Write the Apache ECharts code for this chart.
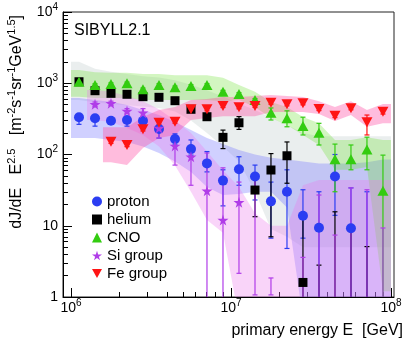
<!DOCTYPE html>
<html><head><meta charset="utf-8">
<script src="https://cdn.jsdelivr.net/npm/echarts@6/dist/echarts.min.js"></script>
<style>html,body{margin:0;padding:0;background:#fff}#c{width:407px;height:343px}</style>
</head><body><div id="c"></div>
<script>
// ---- data ----
const energies = [1.122e6, 1.413e6, 1.778e6, 2.239e6, 2.818e6, 3.548e6, 4.467e6, 5.623e6, 7.079e6, 8.913e6,
                  1.122e7, 1.413e7, 1.778e7, 2.239e7, 2.818e7, 3.548e7, 4.467e7, 5.623e7, 7.079e7, 8.913e7];

const protonVal = [333, 322, 298, 305, 298, 228, 165, 119, 75, 43, 62, 49, 22, 30, 13.8, 9.4, 49, 9.2, null, null];
const protonLo  = [265, 250, 280, 250, 280, 170, 140, 98, 57, 19, 37, 23, 6.7, 4.8, 6.7, 0.5, 14, 0.5, 0.5, null];
const protonHi  = [345, 335, 312, 318, 312, 250, 195, 160, 110, 61, 93, 71, 41, 61, 32, 30, 100, 34, 30, null];

const heliumVal = [1050, 786, 722, 700, 648, 635, 569, 431, 339, 174, 279, 31.7, 60.6, 96, 1.6, null, null, null, null, null];
const heliumLo  = [1000, 750, 690, 670, 620, 605, 540, 405, 318, 121, 225, 13.4, 7, 39.5, 0.5, 0.5, 0.5, 0.5, 0.5, null];
const heliumHi  = [1100, 820, 755, 730, 678, 665, 598, 458, 360, 220, 340, 49, 103, 150, 12.8, 2.8, 15.7, 8.3, 5.1, null];

const cnoVal = [1052, 945, 976, 998, 823, 945, 877, 915, 945, 761, 707, 582, 386, 322, 251, 202, 85.7, 85.7, 118, 31];
const cnoLo  = [1010, 905, 935, 955, 788, 905, 840, 876, 905, 728, 676, 555, 305, 245, 188, 136, 30, 61, 61, 0.5];
const cnoHi  = [1095, 985, 1015, 1040, 858, 985, 915, 955, 985, 795, 738, 610, 450, 410, 334, 274, 140, 136, 175, 98];

const siVal = [null, 507, 523, 408, 386, 235, 132, 93, 31, 12, 21.3, null, null, null, null, null, null, null, null, null];
const siLo  = [null, 470, 490, 380, 300, 170, 71, 37, 0.5, 0.5, 2.15, 1.07, 1.07, null, 0.5, 0.5, 0.5, 0.5, 0.5, 0.5];
const siHi  = [null, 545, 560, 440, 440, 300, 160, 116, 105, 65, 41, 52, 1.85, null, 3.6, 27, 7.4, 34, 32, 9.3];

const feVal = [null, null, 151, 136, 226, 279, 289, 431, 431, 480, 460, 480, 533, 506, 523, 435, 351, 445, 283, 399];
const feLo  = [null, null, 143, 129, 214, 265, 275, 410, 410, 457, 438, 457, 508, 482, 498, 414, 330, 424, 188, 370];
const feHi  = [null, null, 159, 143, 238, 293, 303, 452, 452, 503, 482, 503, 558, 530, 548, 456, 372, 466, 358, 430];

// systematic bands
const protonBandLo = [170, 170, 160, 150, 130, 105, 80, 57, 35, 27, 28, 30, 30, 18, 0.5, 0.5, 0.5, 0.5, 0.5, 0.5];
const protonBandHi = [620, 580, 550, 495, 420, 358, 285, 221, 170, 140, 116, 100, 90, 85, 80, 75, 75, 75, 78, 85];
const heliumBandLo = [580, 540, 510, 490, 470, 450, 400, 300, 200, 130, 80, 30, 9, 7, 5, 5, 5, 5, 5, 5];
const heliumBandHi = [2000, 1600, 1450, 1350, 1250, 1200, 1100, 950, 800, 650, 520, 420, 330, 260, 200, 180, 180, 180, 180, 180];
const cnoBandLo = [645, 620, 620, 620, 582, 582, 582, 582, 582, 560, 582, 465, 325, 259, 188, 136, 61, 61, 67, 1.2];
const cnoBandHi = [1535, 1430, 1400, 1400, 1350, 1350, 1300, 1300, 1300, 1190, 945, 760, 545, 465, 335, 275, 160, 160, 175, 160];
const siBandLo = [null, 305, 285, 235, 188, 130, 70, 30, 12, 8, 0.5, 0.5, 0.5, 0.5, 0.5, 0.5, 0.5, 0.5, 0.5, 0.5];
const siBandHi = [null, 804, 760, 660, 560, 430, 300, 200, 110, 60, 35, 15, 10, 10, 37, 44, 44, 44, 44, 44];
const feBandLo = [null, null, 78, 71, 123, 170, 188, 305, 325, 345, 345, 345, 395, 395, 395, 370, 295, 358, 245, 275];
const feBandHi = [null, null, 242, 242, 335, 421, 465, 582, 600, 640, 640, 660, 684, 660, 640, 560, 465, 560, 421, 510];

const seriesNames = ['proton', 'helium', 'CNO', 'Si group', 'Fe group'];
const xMajor = [1e6, 1e7, 1e8];
const yMajor = [1, 10, 100, 1000, 10000];
const minorMult = [2, 3, 4, 5, 6, 7, 8, 9];
const modelLabel = 'SIBYLL2.1';

// ---- construction ----
const FONT = '"Liberation Sans", Arial, Helvetica, sans-serif';
const xMinor = []; [1e6, 1e7].forEach(d => minorMult.forEach(m => xMinor.push(m * d)));
const yMinor = []; [1, 10, 100, 1000].forEach(d => minorMult.forEach(m => yMinor.push(m * d)));
const xMin = Math.pow(10, 5.95), xMax = Math.pow(10, 8.019);
const binHalf = Math.pow(10, 0.05);

function pts(vals) { return energies.map((e, i) => vals[i] == null ? null : [e, vals[i]]).filter(Boolean); }
function rows(lo, hi) { return energies.map((e, i) => (lo[i] == null || hi[i] == null) ? null : [e, lo[i], hi[i]]).filter(Boolean); }

function powLabel(v) {
  const e = Math.round(Math.log10(v));
  if (e === 0) return '{b|1}';
  if (e === 1) return '{b|10}';
  return '{b|10}{s|' + e + '}';
}
const labRich = {
  b: { fontSize: 14, fontFamily: FONT, color: '#000', lineHeight: 20 },
  s: { fontSize: 10, fontFamily: FONT, color: '#000', lineHeight: 10, verticalAlign: 'top' }
};

function errSeries(name, lo, hi, color, z) {
  return {
    type: 'custom', name: name + ' err', z: z, clip: true, silent: true,
    data: rows(lo, hi), encode: { x: 0, y: [1, 2] },
    renderItem: function (params, api) {
      const x = api.value(0);
      const a = api.coord([x, api.value(1)]);
      const b = api.coord([x, api.value(2)]);
      const st = { stroke: color, lineWidth: 1.2 };
      const c = 2.5;
      return { type: 'group', children: [
        { type: 'line', shape: { x1: a[0], y1: a[1], x2: b[0], y2: b[1] }, style: st },
        { type: 'line', shape: { x1: a[0] - c, y1: a[1], x2: a[0] + c, y2: a[1] }, style: st },
        { type: 'line', shape: { x1: b[0] - c, y1: b[1], x2: b[0] + c, y2: b[1] }, style: st }
      ] };
    }
  };
}

function bandSeries(name, lo, hi, fill) {
  const data = rows(lo, hi);
  return {
    type: 'custom', name: name + ' band', z: 1, clip: true, silent: true,
    data: data, encode: { x: 0, y: [1, 2] },
    renderItem: function (params, api) {
      if (params.dataIndex !== 0) return null;
      const up = [], dn = [];
      const n = data.length;
      up.push(api.coord([data[0][0] / binHalf, data[0][2]]));
      dn.push(api.coord([data[0][0] / binHalf, data[0][1]]));
      data.forEach(r => { up.push(api.coord([r[0], r[2]])); dn.push(api.coord([r[0], r[1]])); });
      up.push(api.coord([data[n - 1][0] * binHalf, data[n - 1][2]]));
      dn.push(api.coord([data[n - 1][0] * binHalf, data[n - 1][1]]));
      return { type: 'polygon', shape: { points: up.concat(dn.reverse()) }, style: { fill: fill } };
    }
  };
}

const STAR = 'path://M50,0 L61,35 L98,35 L68,57 L79,91 L50,70 L21,91 L32,57 L2,35 L39,35 Z';
const DOWN_TRI = 'path://M0,0 L10,0 L5,9 Z';
const colors = { p: '#2b3df2', he: '#000000', cno: '#33cc10', si: '#b03ce8', fe: '#ff1414' };

function markSeries(name, vals, color, symbol, size, rot) {
  return {
    type: 'scatter', name: name, z: 5, data: pts(vals), symbol: symbol, symbolSize: size,
    symbolRotate: rot || 0, itemStyle: { color: color, opacity: 1 }, clip: true
  };
}

const option = {
  animation: false,
  backgroundColor: '#fff',
  title: { text: modelLabel, left: 74, top: 23, padding: 0,
    textStyle: { fontSize: 16, fontWeight: 'normal', color: '#000', fontFamily: FONT } },
  legend: {
    orient: 'vertical', left: 87, top: 189, itemWidth: 10, itemHeight: 10, itemGap: 3,
    textStyle: { fontSize: 15, color: '#000', fontFamily: FONT },
    data: [
      { name: 'proton', icon: 'circle' },
      { name: 'helium', icon: 'rect' },
      { name: 'CNO', icon: 'triangle' },
      { name: 'Si group', icon: STAR },
      { name: 'Fe group', icon: DOWN_TRI }
    ],
    selectedMode: false
  },
  grid: { left: 63, top: 12, right: 13, bottom: 46, show: true, borderColor: '#222', borderWidth: 1 },
  xAxis: [
    { type: 'log', min: xMin, max: xMax, position: 'bottom',
      axisLine: { show: true, lineStyle: { color: '#000', width: 1 } },
      axisTick: { show: true, inside: true, length: 9, customValues: xMajor, lineStyle: { color: '#000' } },
      axisLabel: { customValues: xMajor, formatter: powLabel, margin: 1, rich: labRich },
      splitLine: { show: false }, minorTick: { show: false },
      name: 'primary energy E  [GeV]', nameLocation: 'end', nameGap: 9,
      nameTextStyle: { fontSize: 16, color: '#000', fontFamily: FONT, align: 'right', verticalAlign: 'top', padding: [26, 0, 0, 0] }
    },
    { type: 'log', min: xMin, max: xMax, position: 'bottom',
      axisLine: { show: false },
      axisTick: { show: true, inside: true, length: 5, customValues: xMinor, lineStyle: { color: '#000' } },
      axisLabel: { show: false }, splitLine: { show: false }
    }
  ],
  yAxis: [
    { type: 'log', min: 1, max: 10000, position: 'left',
      axisLine: { show: true, lineStyle: { color: '#000', width: 1 } },
      axisTick: { show: true, inside: true, length: 9, customValues: yMajor, lineStyle: { color: '#000' } },
      axisLabel: { customValues: yMajor, formatter: powLabel, margin: 5, rich: labRich },
      splitLine: { show: false },
      name: '{t|dJ/dE   E}{s|2.5}{t|   [m}{s|-2}{t|s}{s|-1}{t|sr}{s|-1}{t|GeV}{s|1.5}{t|]}',
      nameLocation: 'end', nameRotate: 90, nameGap: -3,
      nameTextStyle: { align: 'right', verticalAlign: 'bottom', padding: [0, 0, 35, 0],
        rich: {
          t: { fontSize: 16, fontFamily: FONT, color: '#000', lineHeight: 22 },
          s: { fontSize: 11, fontFamily: FONT, color: '#000', lineHeight: 11, verticalAlign: 'top' }
        } }
    },
    { type: 'log', min: 1, max: 10000, position: 'left',
      axisLine: { show: false },
      axisTick: { show: true, inside: true, length: 5, customValues: yMinor, lineStyle: { color: '#000' } },
      axisLabel: { show: false }, splitLine: { show: false }
    }
  ],
  series: [
    bandSeries('helium', heliumBandLo, heliumBandHi, 'rgba(185,200,200,0.30)'),
    bandSeries('proton', protonBandLo, protonBandHi, 'rgba(120,120,255,0.35)'),
    bandSeries('CNO', cnoBandLo, cnoBandHi, 'rgba(110,225,50,0.30)'),
    bandSeries('Si group', siBandLo, siBandHi, 'rgba(235,120,235,0.32)'),
    bandSeries('Fe group', feBandLo, feBandHi, 'rgba(255,80,165,0.38)'),
    errSeries('proton', protonLo, protonHi, colors.p, 3),
    errSeries('helium', heliumLo, heliumHi, colors.he, 3),
    errSeries('CNO', cnoLo, cnoHi, colors.cno, 3),
    errSeries('Si group', siLo, siHi, colors.si, 3),
    errSeries('Fe group', feLo, feHi, colors.fe, 3),
    markSeries('proton', protonVal, colors.p, 'circle', 10),
    markSeries('helium', heliumVal, colors.he, 'rect', 9),
    markSeries('CNO', cnoVal, colors.cno, 'triangle', [11, 10]),
    markSeries('Si group', siVal, colors.si, STAR, 11),
    markSeries('Fe group', feVal, colors.fe, 'triangle', [11, 10], 180)
  ]
};

const chart = echarts.init(document.getElementById('c'), null, { renderer: 'canvas' });
chart.setOption(option);
</script>
</body></html>
